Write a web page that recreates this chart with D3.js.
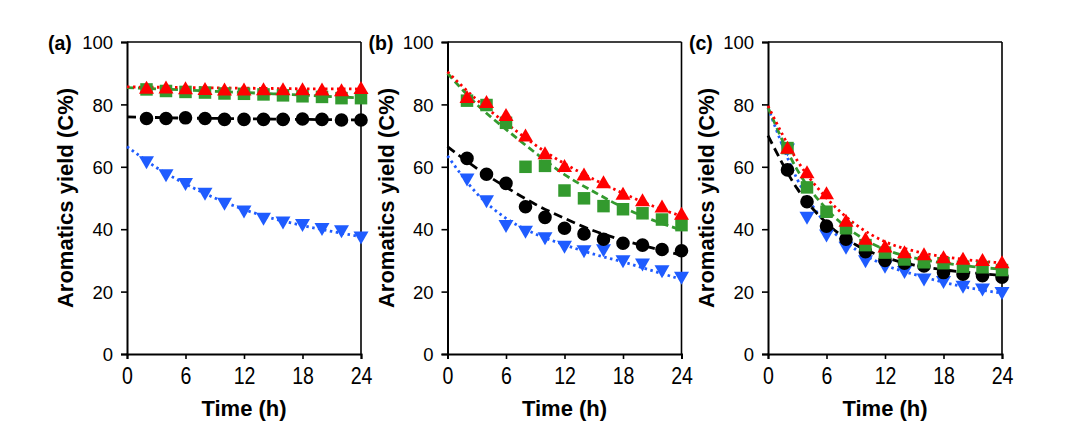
<!DOCTYPE html>
<html><head><meta charset="utf-8">
<script src="https://cdn.jsdelivr.net/npm/d3@7"></script>
<style>
body{margin:0;background:#fff;}
text{font-family:"Liberation Sans",Arial,sans-serif;fill:#000;}
</style></head>
<body>
<svg id="chart" width="1089" height="440"></svg>
<script>
// ---- data ----
const times = [2,4,6,8,10,12,14,16,18,20,22,24];
const fitTimes = [0,3,6,9,12,15,18,21,24];
const xTicks = [0,6,12,18,24];
const yTicks = [0,20,40,60,80,100];
const panelLabels = ["(a)","(b)","(c)"];
const xTitle = "Time (h)";
const yTitle = "Aromatics yield (C%)";

// panel (a)
const aBlack = [75.5,75.5,75.7,75.5,75.2,75.2,75.2,75.2,75.3,75.2,75.0,75.0];
const aGreen = [84.8,84.3,84.0,83.8,83.5,83.4,83.2,82.9,82.6,82.4,82.0,82.0];
const aRed   = [85.5,85.6,85.3,85.1,84.9,84.9,85.0,85.0,85.0,84.9,84.7,85.4];
const aBlue  = [61.3,57.1,54.3,51.2,48.0,45.5,43.2,42.0,41.2,39.9,39.2,37.2];
const aBlackFit = [76.0,75.8,75.6,75.5,75.4,75.3,75.2,75.1,75.0];
const aGreenFit = [85.4,85.0,84.6,84.2,83.8,83.4,83.0,82.5,82.1];
const aRedFit   = [85.6,85.5,85.4,85.3,85.2,85.1,85.0,85.0,84.9];
const aBlueFit  = [66.5,59.8,54.5,50.0,46.3,43.4,41.2,39.3,37.6];

// panel (b)
const bBlack = [62.7,57.6,54.7,47.2,43.8,40.3,38.5,36.8,35.5,34.9,33.5,33.1];
const bGreen = [81.2,79.8,74.1,60.0,60.3,52.4,49.9,47.4,46.4,45.1,43.1,41.3];
const bRed   = [82.5,80.9,76.8,70.2,64.5,60.4,57.7,55.2,51.5,49.4,47.4,45.1];
const bBlue  = [55.8,48.8,40.9,39.0,36.9,34.2,32.8,33.1,29.6,28.5,26.4,24.3];
const bBlackFit = [66.5,59.5,53.5,48.0,43.5,39.5,36.5,34.0,31.7];
const bGreenFit = [90.0,80.0,72.0,64.5,57.5,52.0,47.0,43.0,39.7];
const bRedFit   = [90.5,81.5,74.0,67.0,61.0,56.0,51.5,47.5,44.2];
const bBlueFit  = [63.5,51.5,43.5,38.5,35.0,32.0,29.5,26.7,23.9];

// panel (c)
const cBlack = [59.0,48.8,41.0,36.8,32.8,30.0,29.1,28.2,26.1,25.6,25.1,24.6];
const cGreen = [66.0,53.4,45.6,40.3,34.9,32.5,30.3,29.4,29.1,28.0,27.8,26.9];
const cRed   = [66.3,58.4,51.7,42.9,37.1,34.6,32.8,32.1,31.2,30.7,30.3,29.6];
const cBlue  = [65.4,43.5,37.8,33.9,29.6,27.8,26.1,23.7,22.9,21.4,20.5,19.4];
const cBlackFit = [70.0,53.0,42.0,35.0,31.0,28.5,27.0,26.0,25.2];
const cGreenFit = [79.0,59.0,46.5,38.5,33.5,30.8,29.2,28.0,27.2];
const cRedFit   = [79.5,62.0,50.0,41.5,36.0,33.0,31.2,30.0,29.2];
const cBlueFit  = [79.0,56.0,41.5,33.5,28.5,25.5,23.0,21.0,19.5];

const panels = [
  {label:panelLabels[0], black:aBlack, green:aGreen, red:aRed, blue:aBlue,
   blackFit:aBlackFit, greenFit:aGreenFit, redFit:aRedFit, blueFit:aBlueFit},
  {label:panelLabels[1], black:bBlack, green:bGreen, red:bRed, blue:bBlue,
   blackFit:bBlackFit, greenFit:bGreenFit, redFit:bRedFit, blueFit:bBlueFit},
  {label:panelLabels[2], black:cBlack, green:cGreen, red:cRed, blue:cBlue,
   blackFit:cBlackFit, greenFit:cGreenFit, redFit:cRedFit, blueFit:cBlueFit}
];

// ---- styles ----
const COL = {black:"#000000", green:"#339a2e", red:"#ff0000", blue:"#1f5cff"};
const lefts = [127, 447.5, 768];
const PW = 234, PTOP = 42, PBOT = 354;

const triUp = {draw(ctx, size){ const w=15,h=13; ctx.moveTo(0,-h/2); ctx.lineTo(w/2,h/2); ctx.lineTo(-w/2,h/2); ctx.closePath(); }};
const triDown = {draw(ctx, size){ const w=15,h=13; ctx.moveTo(0,h/2); ctx.lineTo(w/2,-h/2); ctx.lineTo(-w/2,-h/2); ctx.closePath(); }};
const square = {draw(ctx, size){ const s=12.5; ctx.rect(-s/2,-s/2,s,s); }};
const circle = {draw(ctx, size){ ctx.arc(0,0,6.8,0,2*Math.PI); }};

const svg = d3.select("#chart");

panels.forEach((p, i) => {
  const L = lefts[i];
  const x = d3.scaleLinear().domain([0,24]).range([L, L+PW]);
  const y = d3.scaleLinear().domain([0,100]).range([PBOT, PTOP]);
  const g = svg.append("g");

  // frame (top & right)
  g.append("line").attr("x1",x(0)).attr("x2",x(24)).attr("y1",y(100)).attr("y2",y(100))
    .attr("stroke","#000").attr("stroke-width",1.6);
  g.append("line").attr("x1",x(24)).attr("x2",x(24)).attr("y1",y(100)).attr("y2",y(0))
    .attr("stroke","#000").attr("stroke-width",1.6);

  // axes
  const gx = g.append("g").attr("transform",`translate(0,${PBOT})`)
    .call(d3.axisBottom(x).tickValues(xTicks).tickSize(5).tickFormat(d3.format("d")));
  gx.select(".domain").attr("stroke-width",2);
  gx.selectAll(".tick line").attr("stroke-width",1.6);
  gx.selectAll(".tick text").attr("y",30).attr("dy",null)
    .attr("transform","scale(0.85,1)")
    .style("font-size","23px").attr("font-family",null);

  const gy = g.append("g").attr("transform",`translate(${L},0)`)
    .call(d3.axisLeft(y).tickValues(yTicks).tickSize(6));
  gy.select(".domain").attr("stroke-width",2);
  gy.selectAll(".tick line").attr("stroke-width",1.6);
  gy.selectAll(".tick text").attr("x",-14).attr("dy","0.36em")
    .style("font-size","18.5px").attr("font-family",null);
  svg.selectAll(".domain").attr("stroke","#000");

  // titles
  g.append("text").attr("x",L+PW/2).attr("y",416).attr("text-anchor","middle")
    .style("font-size","22px").style("font-weight","bold").text(xTitle);
  g.append("text").attr("transform",`translate(${L-54},${(PTOP+PBOT)/2}) rotate(-90)`)
    .attr("text-anchor","middle").style("font-size","22px").style("font-weight","bold").text(yTitle);
  g.append("text").attr("x",L-79).attr("y",50)
    .style("font-size","19.5px").style("font-weight","bold").text(p.label);

  // fit lines
  const line = d3.line().x(d=>x(d[0])).y(d=>y(d[1])).curve(d3.curveMonotoneX);
  const fits = [
    {key:"blueFit", col:COL.blue, dash:"2.5,3.5"},
    {key:"blackFit", col:COL.black, dash:"9,5"},
    {key:"greenFit", col:COL.green, dash:"7,4"},
    {key:"redFit", col:COL.red, dash:"2.5,3.5"}
  ];
  fits.forEach(f => {
    g.append("path").datum(fitTimes.map((t,j)=>[t,p[f.key][j]]))
      .attr("d",line).attr("fill","none").attr("stroke",f.col)
      .attr("stroke-width",2.8).attr("stroke-dasharray",f.dash);
  });

  // markers
  const series = [
    {key:"blue", type:triDown},
    {key:"black", type:circle},
    {key:"green", type:square},
    {key:"red", type:triUp}
  ];
  series.forEach(s => {
    g.append("g").selectAll("path").data(times.map((t,j)=>[t,p[s.key][j]])).join("path")
      .attr("transform",d=>`translate(${x(d[0])},${y(d[1])})`)
      .attr("d",d3.symbol().type(s.type)())
      .attr("fill",COL[s.key]);
  });
});
</script>
</body></html>
